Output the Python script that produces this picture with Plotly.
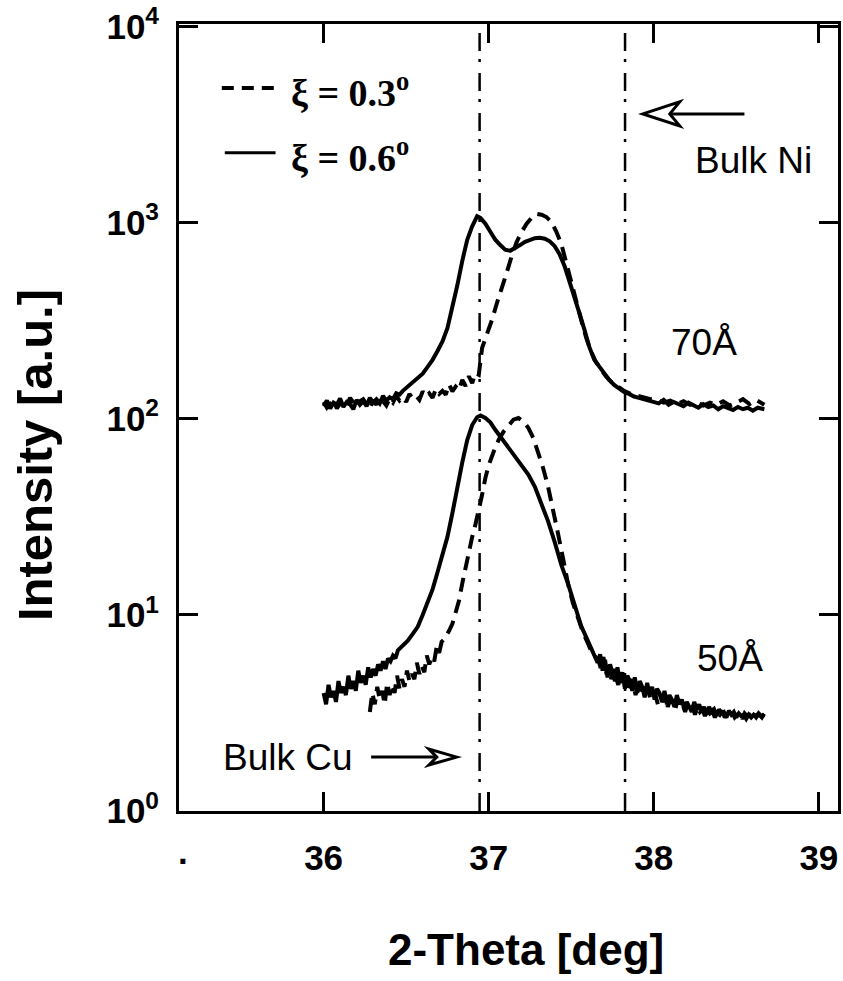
import plotly.graph_objects as go

# ---- data -------------------------------------------------------------
# 70 A multilayer, xi = 0.6 deg (solid)
x70_06 = [36.00, 36.02, 36.04, 36.06, 36.08, 36.10, 36.12, 36.14, 36.16, 36.18,
          36.20, 36.22, 36.24, 36.26, 36.28, 36.30, 36.32, 36.34, 36.36, 36.38,
          36.40, 36.42, 36.44, 36.46, 36.48, 36.51, 36.54, 36.57,
          36.60, 36.63, 36.66, 36.69, 36.72, 36.75, 36.78, 36.81, 36.84, 36.87,
          36.90, 36.93, 36.95, 36.98, 37.01, 37.04, 37.07, 37.10, 37.13, 37.16,
          37.19, 37.22, 37.25, 37.28, 37.31, 37.34, 37.37, 37.40, 37.43, 37.46,
          37.49, 37.52, 37.55, 37.58, 37.61, 37.64, 37.67, 37.70, 37.73, 37.76,
          37.79, 37.82, 37.85, 37.88, 37.91, 37.94, 37.97, 38.00, 38.03, 38.06,
          38.09, 38.12, 38.15, 38.18, 38.21, 38.24, 38.27, 38.30, 38.33, 38.36,
          38.39, 38.42, 38.45, 38.48, 38.51, 38.54, 38.57, 38.60, 38.63, 38.67]
y70_06 = [116, 124, 113, 121, 118, 127, 115, 122, 119, 112,
          125, 118, 123, 116, 128, 121, 126, 120, 131, 124,
          129, 126, 135, 133, 139, 146, 152, 160,
          170, 184, 200, 222, 248, 290, 370, 480, 640, 820,
          960, 1080, 1060, 990, 900, 820, 770, 730, 720, 740,
          770, 800, 820, 835, 838, 830, 805, 760, 690, 600,
          500, 420, 345, 285, 232, 200, 185, 170, 158, 149,
          143, 137, 134, 130, 128, 126, 124, 123, 120, 125,
          118, 122, 119, 116, 121, 117, 114, 119, 115, 117,
          112, 116, 114, 111, 115, 112, 114, 110, 114, 112]

# 70 A multilayer, xi = 0.3 deg (dashed)
x70_03 = [36.00, 36.02, 36.04, 36.06, 36.08, 36.10, 36.12, 36.14, 36.16, 36.18,
          36.20, 36.22, 36.24, 36.26, 36.28, 36.30, 36.32, 36.34, 36.36, 36.38,
          36.40, 36.42, 36.44, 36.46, 36.48, 36.50, 36.52, 36.54, 36.56, 36.58,
          36.60, 36.62, 36.64, 36.66, 36.68, 36.70, 36.72, 36.74, 36.76, 36.78,
          36.80, 36.82, 36.84, 36.86, 36.88, 36.90, 36.92, 36.94, 36.96, 36.99,
          37.02, 37.05, 37.08, 37.11, 37.14, 37.17, 37.20, 37.23, 37.26, 37.29,
          37.32, 37.35, 37.38, 37.41, 37.44, 37.47, 37.50, 37.53, 37.56, 37.59,
          37.62, 37.65, 37.68, 37.71, 37.74, 37.78, 37.82, 37.86, 37.90, 37.94,
          37.98, 38.02, 38.06, 38.10, 38.14, 38.18, 38.22, 38.26, 38.30, 38.34,
          38.38, 38.42, 38.46, 38.50, 38.54, 38.58, 38.62, 38.67]
y70_03 = [122, 114, 119, 126, 113, 120, 124, 117, 128, 120,
          115, 123, 126, 119, 113, 125, 118, 129, 122, 117,
          127, 121, 131, 124, 129, 122, 134, 127, 131, 125,
          138, 130, 135, 128, 142, 134, 139, 133, 150, 138,
          146, 140, 158, 147, 165, 152, 172, 168, 230, 270,
          320, 390, 460, 560, 680, 800, 900, 990, 1060, 1110,
          1100, 1070, 1010, 900, 780, 620, 490, 400, 320, 260,
          220, 195, 178, 165, 155, 146, 139, 134, 131, 128,
          126, 125, 121, 124, 119, 123, 118, 122, 117, 121,
          118, 123, 117, 121, 126, 119, 125, 118]

# 50 A multilayer, xi = 0.6 deg (solid)
x50_06 = [36.000, 36.015, 36.030, 36.045, 36.060, 36.075, 36.090, 36.105,
          36.120, 36.135, 36.150, 36.165, 36.180, 36.195, 36.210, 36.225,
          36.240, 36.255, 36.270, 36.285, 36.300, 36.315, 36.330, 36.345,
          36.360, 36.375, 36.390, 36.405, 36.420, 36.435, 36.450,
          36.48, 36.51, 36.54, 36.57, 36.60, 36.63, 36.66, 36.69, 36.72,
          36.75, 36.78, 36.81, 36.84, 36.87, 36.90, 36.93, 36.95, 36.98, 37.01,
          37.04, 37.08, 37.12, 37.16, 37.20, 37.24, 37.28, 37.32, 37.36, 37.40,
          37.44, 37.48, 37.52, 37.56, 37.60, 37.63,
          37.660, 37.675, 37.690, 37.705, 37.720, 37.735, 37.750, 37.765,
          37.780, 37.795, 37.810, 37.825, 37.840, 37.855, 37.870, 37.885,
          37.900, 37.915, 37.930, 37.945, 37.960, 37.975, 37.990, 38.005,
          38.020, 38.035, 38.050, 38.065, 38.080, 38.095, 38.110, 38.125,
          38.140, 38.155, 38.170, 38.185, 38.200, 38.215, 38.230, 38.245,
          38.260, 38.275, 38.290, 38.305, 38.320, 38.335, 38.350, 38.365,
          38.380, 38.395, 38.410, 38.425, 38.440, 38.455, 38.470, 38.485,
          38.500, 38.515, 38.530, 38.545, 38.560, 38.575, 38.590, 38.605,
          38.620, 38.635, 38.650, 38.670]
y50_06 = [4.0, 3.5, 4.4, 3.8, 4.1, 3.6, 4.6, 4.0,
          4.3, 3.9, 4.9, 4.2, 4.6, 4.1, 5.2, 4.5,
          4.9, 4.4, 5.4, 4.8, 5.3, 4.9, 5.6, 5.2,
          5.8, 5.3, 6.0, 5.8, 6.2, 6.0, 6.6,
          7.0, 7.4, 8.0, 8.7, 10.0, 11.5, 13.5, 16.5, 20.0,
          25.0, 33.0, 45.0, 60.0, 78.0, 93.0, 102.0, 104.0, 101.0, 96.0,
          88.0, 79.0, 71.0, 64.0, 58.0, 52.0, 45.0, 37.0, 30.0, 23.5,
          18.0, 14.5, 11.2, 8.8, 7.4, 6.5,
          5.7, 6.3, 5.2, 5.9, 4.8, 5.6, 5.0, 4.6,
          5.4, 4.5, 5.1, 4.2, 4.9, 4.6, 4.1, 4.8,
          4.0, 4.6, 4.3, 3.8, 4.5, 3.9, 4.3, 3.7,
          4.2, 4.0, 3.6, 4.1, 3.5, 3.9, 3.7, 3.4,
          3.9, 3.5, 3.7, 3.3, 3.6, 3.4, 3.2, 3.6,
          3.3, 3.5, 3.2, 3.4, 3.1, 3.4, 3.2, 3.3,
          3.05, 3.3, 3.15, 3.2, 3.0, 3.25, 3.1, 3.2,
          3.0, 3.15, 3.05, 3.1, 2.95, 3.1, 3.0, 3.1,
          3.0, 3.15, 3.05, 3.1]

# 50 A multilayer, xi = 0.3 deg (dashed)
x50_03 = [36.280, 36.295, 36.310, 36.325, 36.340, 36.355, 36.370, 36.385,
          36.400, 36.415, 36.430, 36.445, 36.460, 36.475, 36.490, 36.505,
          36.520, 36.535, 36.550, 36.565, 36.580, 36.595, 36.610, 36.625,
          36.640, 36.655, 36.670, 36.685, 36.700, 36.715, 36.730, 36.745,
          36.760, 36.780,
          36.80, 36.82, 36.84, 36.86, 36.88, 36.90, 36.92, 36.94, 36.96, 36.98,
          37.00, 37.03, 37.06, 37.09, 37.12, 37.15, 37.18, 37.21, 37.24, 37.27,
          37.30, 37.33, 37.36, 37.39, 37.42, 37.45, 37.48, 37.51, 37.54, 37.57,
          37.60, 37.63,
          37.665, 37.680, 37.695, 37.710, 37.725, 37.740, 37.755, 37.770,
          37.785, 37.800, 37.815, 37.830, 37.845, 37.860, 37.875, 37.890,
          37.905, 37.920, 37.935, 37.950, 37.965, 37.980, 37.995, 38.010,
          38.025, 38.040, 38.055, 38.070, 38.085, 38.100, 38.115, 38.130,
          38.145, 38.160, 38.175, 38.190, 38.205, 38.220, 38.235, 38.250,
          38.265, 38.280, 38.295, 38.310, 38.325, 38.340, 38.355, 38.370,
          38.385, 38.400, 38.415, 38.430, 38.445, 38.460, 38.475, 38.490,
          38.505, 38.520, 38.535, 38.550, 38.565, 38.580, 38.595, 38.610,
          38.625, 38.640, 38.655, 38.670]
y50_03 = [3.2, 4.0, 3.5, 4.3, 3.7, 4.1, 3.5, 4.5,
          3.9, 4.4, 4.0, 4.9, 4.2, 4.7, 4.3, 5.2,
          4.6, 5.0, 4.7, 5.7, 5.0, 5.5, 5.1, 6.2,
          5.6, 6.1, 5.8, 6.9, 6.4, 7.3, 7.5, 8.0,
          8.3, 9.0,
          10.2, 11.8, 14.5, 17.5, 21.0, 25.0, 29.0, 34.0, 41.0, 50.0,
          58.0, 68.0, 78.0, 86.0, 93.0, 99.0, 101.0, 97.0, 90.0, 80.0,
          67.0, 56.0, 45.0, 35.0, 26.0, 19.5, 14.5, 11.5, 9.6, 8.2,
          7.2, 6.3,
          5.9, 5.3, 6.1, 5.0, 5.5, 4.7, 5.3, 4.9,
          4.4, 5.1, 4.6, 4.8, 4.2, 4.7, 4.4, 3.9,
          4.5, 4.1, 4.3, 3.8, 4.2, 3.7, 4.0, 3.9,
          3.5, 3.9, 3.6, 3.8, 3.4, 3.7, 3.5, 3.3,
          3.7, 3.4, 3.5, 3.2, 3.5, 3.3, 3.4, 3.1,
          3.4, 3.2, 3.3, 3.05, 3.3, 3.15, 3.25, 3.0,
          3.2, 3.1, 3.25, 3.0, 3.15, 3.05, 3.2, 3.0,
          3.1, 3.15, 2.95, 3.15, 3.05, 3.1, 3.0, 3.15,
          3.05, 3.1, 3.0, 3.15]

# bulk reference positions (2-theta, deg)
bulk_cu = 36.945
bulk_ni = 37.826

x_ticks = [36, 37, 38, 39]
y_ticks = [1, 10, 100, 1000, 10000]
y_ticktext = ["10<sup>0</sup>", "10<sup>1</sup>", "10<sup>2</sup>",
              "10<sup>3</sup>", "10<sup>4</sup>"]

# ---- geometry helpers ----------------------------------------------------
W, H = 843, 981
L, R, T, B = 179, 841, 23, 811          # plot-area edges in pixels


def px(xp):
    return (xp - L) / (R - L)


def py(yp):
    return (B - yp) / (B - T)


SANS = "Liberation Sans, Arial, Helvetica, sans-serif"
SERIF = "Liberation Serif, Times New Roman, serif"
DASH = "14px,8px"
LW = 4

fig = go.Figure()
for xs, ys, dash in [(x70_06, y70_06, "solid"), (x70_03, y70_03, DASH),
                     (x50_06, y50_06, "solid"), (x50_03, y50_03, DASH)]:
    fig.add_trace(go.Scatter(x=xs, y=ys, mode="lines",
                             line=dict(color="black", width=LW, dash=dash),
                             showlegend=False, hoverinfo="skip"))

shapes = []
# bulk reference lines (dash-dot)
for xb in (bulk_cu, bulk_ni):
    shapes.append(dict(type="line", xref="x", yref="paper", x0=xb, x1=xb,
                       y0=0, y1=1,
                       line=dict(color="black", width=2.5,
                                 dash="18px,11px,3px,8px")))

# legend samples
shapes.append(dict(type="line", xref="paper", yref="paper",
                   x0=px(222), x1=px(276), y0=py(87), y1=py(87),
                   line=dict(color="black", width=LW, dash="12px,8px")))
shapes.append(dict(type="line", xref="paper", yref="paper",
                   x0=px(225), x1=px(276), y0=py(152), y1=py(152),
                   line=dict(color="black", width=LW - 1)))


def open_arrow(tip, tail, back, half, notch):
    """Arrow with an open, notched triangular head (pixel coordinates)."""
    tx, ty = tip
    d = 1 if tail[0] > tx else -1
    bx = tx + d * back
    nx = tx + d * notch
    head = (f"M {px(tx)},{py(ty)} L {px(bx)},{py(ty - half)} "
            f"L {px(nx)},{py(ty)} L {px(bx)},{py(ty + half)} Z")
    return [
        dict(type="path", xref="paper", yref="paper", path=head,
             line=dict(color="black", width=3)),
        dict(type="line", xref="paper", yref="paper",
             x0=px(nx), x1=px(tail[0]), y0=py(ty), y1=py(ty),
             line=dict(color="black", width=3)),
    ]


shapes += open_arrow((645, 113), (747, 113), 37, 12, 27)
shapes += open_arrow((458, 757), (372, 757), 28, 8, 20)

ann = []


def text(t, xp, yp, size, family=SANS, weight="normal", xanchor="center",
         angle=0):
    ann.append(dict(text=t, xref="paper", yref="paper", x=px(xp), y=py(yp),
                    xanchor=xanchor, yanchor="middle", showarrow=False,
                    textangle=angle,
                    font=dict(family=family, size=size, color="black",
                              weight=weight)))


text("Bulk Ni", 756, 160, 37)
text("70Å", 706, 342, 37)
text("50Å", 733, 658, 37)
text("Bulk Cu", 288, 757, 37)
text("ξ = 0.3<sup>o</sup>", 289, 89, 38, SERIF, "bold", "left")
text("ξ = 0.6<sup>o</sup>", 289, 154, 38, SERIF, "bold", "left")
text(".", 183, 852, 35, SANS, "bold")
text("2-Theta [deg]", 528, 950, 44, SANS, "bold")
text("Intensity [a.u.]", 35, 455, 49, SANS, "bold", angle=-90)

axis_common = dict(showline=True, linecolor="black", linewidth=3, mirror="ticks",
                   ticks="inside", ticklen=19, tickwidth=3, tickcolor="black",
                   showgrid=False, zeroline=False,
                   tickfont=dict(family=SANS, size=35, color="black",
                                 weight="bold"))

fig.update_layout(
    width=W, height=H,
    margin=dict(l=L, r=W - R, t=T, b=H - B, pad=0),
    paper_bgcolor="white", plot_bgcolor="white",
    xaxis=dict(range=[35.124, 39.116], tickvals=x_ticks,
               ticklabelstandoff=14, **axis_common),
    yaxis=dict(type="log", range=[0, 4.014], tickvals=y_ticks,
               ticktext=y_ticktext, ticklabelstandoff=10, **axis_common),
    shapes=shapes, annotations=ann,
)

fig.write_html("out.html")
